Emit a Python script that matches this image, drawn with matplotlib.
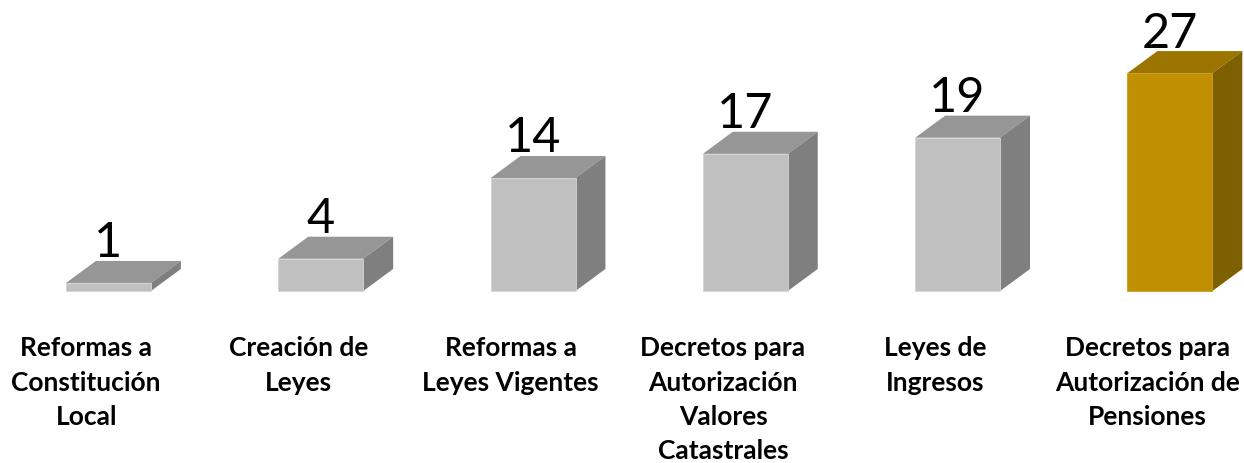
#!/usr/bin/env python3

import matplotlib
matplotlib.use("Agg")
import matplotlib.pyplot as plt

categories = ["Reformas a\nConstitución\nLocal",
              "Creación de\nLeyes",
              "Reformas a\nLeyes Vigentes",
              "Decretos para\nAutorización\nValores\nCatastrales",
              "Leyes de\nIngresos",
              "Decretos para\nAutorización de\nPensiones"]
values = [1, 4, 14, 17, 19, 27]

gray = ("#c0c0c0", "#969696", "#7f7f7f")   # front, top, side
gold = ("#c09000", "#9c7500", "#7f6000")
highlight = 5

plt.rcParams['font.family'] = ['Lato', 'DejaVu Sans']

fig = plt.figure(figsize=(12.44, 4.63), dpi=100)
ax = fig.add_axes([0, 0, 1, 1])
ax.set_xlim(-0.511, 5.349)
ax.set_ylim(-21.31, 36.06)
ax.axis("off")

w = 0.40      # front face width
dx = 0.141    # depth offset in x
dy = 2.73     # depth offset in y

for i, v in enumerate(values):
    front, top, side = gold if i == highlight else gray
    x0 = i - w / 2
    x1 = i + w / 2
    # front face
    ax.fill([x0, x1, x1, x0], [0, 0, v, v], color=front, lw=0.6, ec="#d4d4d4" if i != highlight else "#c89c20", zorder=3)
    # top face
    ax.fill([x0, x1, x1 + dx, x0 + dx], [v, v, v + dy, v + dy], color=top, lw=0, zorder=2)
    # side face
    ax.fill([x1, x1 + dx, x1 + dx, x1], [0, dy, v + dy, v], color=side, lw=0, zorder=2)
    ax.text(i, v + dy - 0.55, str(v), ha="center", va="bottom", fontsize=35, color="black")
    ax.text(i - 0.105, -5.6, categories[i], ha="center", va="top", fontsize=19,
            fontweight="bold", linespacing=1.52, color="black")

fig.savefig("out.png", dpi=100)
